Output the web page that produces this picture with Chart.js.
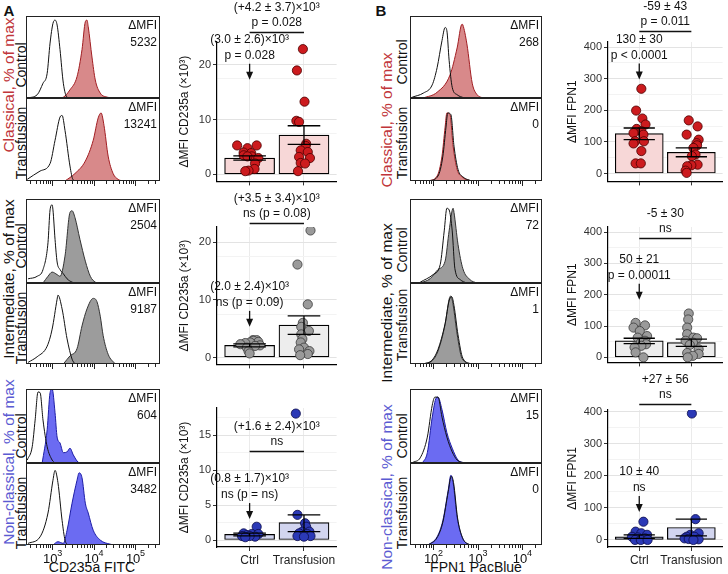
<!DOCTYPE html>
<html>
<head>
<meta charset="utf-8">
<script src="https://cdn.jsdelivr.net/npm/chart.js@4.4.0/dist/chart.umd.min.js"></script>
<style>
body { margin: 0; background: #fff; font-family: "Liberation Sans", Arial, sans-serif; }
#wrap { position: relative; width: 728px; height: 574px; overflow: hidden; }
canvas { position: absolute; }
.txt { position: absolute; white-space: nowrap; transform: translate(-50%, -50%); color: #111; }
.rot { position: absolute; white-space: nowrap; line-height: 1; transform: translate(-50%, -50%) rotate(-90deg); color: #111; font-size: 14px; }
.grp { font-size: 15.5px; }
</style>
</head>
<body>
<div id="wrap">
  <div class="txt" style="left:9px;top:10px;font-weight:bold;font-size:15px">A</div>
  <div class="txt" style="left:381px;top:10px;font-weight:bold;font-size:15px">B</div>

  <div class="rot grp" style="left:9px;top:85px;color:#c0353a">Classical, % of max</div>
  <div class="rot" style="left:21px;top:65px">Control</div>
  <div class="rot" style="left:21px;top:143px">Transfusion</div>
  <div class="rot grp" style="left:9px;top:279px">Intermediate, % of max</div>
  <div class="rot" style="left:21px;top:246px">Control</div>
  <div class="rot" style="left:21px;top:328px">Transfusion</div>
  <div class="rot grp" style="left:9px;top:462px;color:#5b5bd2">Non-classical, % of max</div>
  <div class="rot" style="left:21px;top:436px">Control</div>
  <div class="rot" style="left:21px;top:513px">Transfusion</div>

  <div class="rot grp" style="left:387px;top:120px;color:#c0353a">Classical, % of max</div>
  <div class="rot" style="left:402px;top:62px">Control</div>
  <div class="rot" style="left:402px;top:143px">Transfusion</div>
  <div class="rot grp" style="left:387px;top:303px">Intermediate, % of max</div>
  <div class="rot" style="left:402px;top:250px">Control</div>
  <div class="rot" style="left:402px;top:325px">Transfusion</div>
  <div class="rot grp" style="left:387px;top:487px;color:#5b5bd2">Non-classical, % of max</div>
  <div class="rot" style="left:402px;top:436px">Control</div>
  <div class="rot" style="left:402px;top:513px">Transfusion</div>

  <div class="txt" style="left:92px;top:567px;font-size:14px">CD235a FITC</div>
  <div class="txt" style="left:476px;top:567px;font-size:14px">FPN1 PacBlue</div>
</div>
<script>
// ---- histogram curves: [log10 intensity, % of max] ----
// A: CD235a FITC
var aClsCtrlIso = [[2.40,0],[2.64,4],[2.78,18],[2.88,30],[2.95,67],[3.02,91],[3.07,95],[3.12,89],[3.19,59],[3.27,18],[3.36,1],[3.45,0]];
var aClsCtrlStain = [[3.15,0],[3.27,1],[3.43,10],[3.60,26],[3.72,59],[3.80,93],[3.84,95],[3.87,87],[3.96,50],[4.04,22],[4.16,6],[4.33,1],[4.45,0]];
var aClsTrIso = [[2.40,2],[2.71,12],[2.95,21],[3.07,49],[3.19,77],[3.24,79],[3.31,61],[3.43,18],[3.50,2],[3.58,0]];
var aClsTrStain = [[3.31,0],[3.55,9],[3.80,24],[3.99,49],[4.11,76],[4.18,82],[4.25,67],[4.35,30],[4.47,9],[4.59,2],[4.70,0]];
var aIntCtrlIso = [[2.42,5],[2.64,8],[2.78,16],[2.90,48],[2.95,87],[3.00,93],[3.02,87],[3.07,52],[3.12,25],[3.19,16],[3.27,11],[3.36,5],[3.48,1],[3.55,0]];
var aIntCtrlStain = [[2.78,0],[2.90,8],[3.00,13],[3.12,10],[3.19,8],[3.31,32],[3.43,84],[3.48,86],[3.55,78],[3.67,52],[3.80,26],[3.92,8],[4.04,1],[4.12,0]];
var aIntTrIso = [[2.42,2],[2.64,9],[2.88,22],[3.00,43],[3.12,80],[3.14,85],[3.24,68],[3.36,31],[3.48,6],[3.55,0]];
var aIntTrStain = [[3.27,0],[3.43,10],[3.60,19],[3.72,47],[3.84,68],[3.99,81],[4.08,77],[4.16,59],[4.23,35],[4.35,12],[4.52,0]];
var aNcCtrlIso = [[2.40,4],[2.52,22],[2.59,58],[2.66,96],[2.71,95],[2.78,58],[2.88,22],[3.00,4],[3.07,0]];
var aNcCtrlStain = [[2.76,0],[2.88,45],[2.95,95],[3.00,100],[3.07,68],[3.12,35],[3.19,27],[3.27,14],[3.36,15],[3.43,20],[3.51,11],[3.63,1],[3.70,0]];
var aNcTrIso = [[2.42,2],[2.71,10],[2.90,39],[3.02,79],[3.07,91],[3.14,76],[3.24,30],[3.31,6],[3.38,0]];
var aNcTrStain = [[3.02,0],[3.14,4],[3.27,2],[3.36,18],[3.48,51],[3.60,79],[3.65,88],[3.72,82],[3.80,51],[3.87,39],[3.99,18],[4.16,6],[4.40,1],[4.50,0]];
// B: FPN1 PacBlue
var bClsCtrlIso = [[1.53,1],[1.78,6],[1.98,16],[2.09,37],[2.20,70],[2.27,86],[2.31,82],[2.36,46],[2.43,13],[2.54,4],[2.70,0]];
var bClsCtrlStain = [[1.78,0],[2.09,7],[2.38,28],[2.54,61],[2.65,90],[2.67,89],[2.76,66],[2.88,18],[2.99,4],[3.12,0]];
var bClsTrIso = [[1.91,0],[2.11,6],[2.22,30],[2.29,65],[2.33,82],[2.40,80],[2.47,42],[2.56,14],[2.67,5],[2.87,0]];
var bClsTrStain = [[1.89,0],[2.09,6],[2.20,30],[2.27,65],[2.31,82],[2.38,80],[2.45,42],[2.54,14],[2.65,5],[2.85,0]];
var bIntCtrlIso = [[1.71,1],[2.00,10],[2.16,22],[2.25,62],[2.31,89],[2.36,87],[2.43,62],[2.49,17],[2.61,4],[2.75,0]];
var bIntCtrlStain = [[1.71,0],[1.93,5],[2.11,16],[2.27,26],[2.36,62],[2.45,89],[2.47,84],[2.56,46],[2.67,17],[2.83,4],[2.98,0]];
var bIntTrIso = [[1.78,0],[1.98,5],[2.11,18],[2.27,50],[2.36,78],[2.42,83],[2.47,72],[2.56,36],[2.67,7],[2.87,0]];
var bIntTrStain = [[1.78,0],[1.98,4],[2.11,16],[2.27,49],[2.36,80],[2.40,84],[2.45,73],[2.54,37],[2.65,7],[2.85,0]];
var bNcCtrlIso = [[1.55,1],[1.71,7],[1.87,35],[1.98,78],[2.04,89],[2.11,89],[2.20,62],[2.31,35],[2.43,15],[2.54,4],[2.70,0]];
var bNcCtrlStain = [[1.76,0],[1.87,14],[1.98,62],[2.07,88],[2.11,89],[2.20,72],[2.31,41],[2.43,20],[2.56,4],[2.72,0]];
var bNcTrIso = [[1.89,0],[2.09,9],[2.22,28],[2.34,65],[2.41,84],[2.46,76],[2.55,33],[2.66,9],[2.80,1],[2.90,0]];
var bNcTrStain = [[1.89,0],[2.09,10],[2.22,30],[2.34,67],[2.40,85],[2.45,76],[2.54,34],[2.65,10],[2.79,1],[2.90,0]];

var histMfi = [['5232','13241'],['2504','9187'],['604','3482'],['268','0'],['72','1'],['15','0']];

// ---- bar / dot plots ----
var groups = ['Ctrl', 'Transfusion'];

var aClsCtrl = [5.3,5.3,4.8,4.0,3.9,3.5,3.3,3.3,3.0,2.0,1.0,0.7,0.6];
var aClsCtrlJit = [-0.23,0.13,-0.04,-0.11,0.03,-0.11,0.04,-0.04,0.16,0.10,0.09,-0.02,-0.08];
var aClsTr = [22.9,19.0,13.3,9.8,9.6,5.6,5.2,4.4,4.1,3.2,3.0,2.1,2.0,0.6];
var aClsTrJit = [-0.02,-0.13,0.01,-0.14,-0.09,0.04,0.03,-0.06,0.07,-0.09,0.11,-0.06,0.02,-0.11];
var aClsMean = [3.0, 7.2], aClsLo = [2.6, 5.5], aClsHi = [3.4, 8.9];

var aIntCtrl = [3.0,3.0,2.9,2.7,2.6,2.5,2.3,2.1,2.0,1.7,1.1,0.7];
var aIntCtrlJit = [0.06,0.13,0.07,0.16,0.01,-0.08,-0.17,0.19,0.10,-0.05,-0.02,0.0];
var aIntTr = [22.0,16.1,9.2,6.0,5.3,4.6,4.0,3.2,2.6,1.7,1.4,1.1,0.6,0.4];
var aIntTrJit = [0.12,-0.12,0.07,-0.02,-0.05,0.09,-0.05,-0.03,-0.06,0.0,-0.09,0.10,0.07,-0.07];
var aIntMean = [2.1, 5.6], aIntLo = [1.85, 4.0], aIntHi = [2.35, 7.2];

var aNcCtrl = [1.9,0.95,0.86,0.86,0.7,0.57,0.48,0.57,0.4];
var aNcCtrlJit = [0.13,-0.11,0.04,0.16,-0.05,-0.14,0.10,0.0,-0.08];
var aNcTr = [18.1,3.6,2.4,1.9,1.2,1.2,0.95,0.86,0.57,0.57,0.48];
var aNcTrJit = [-0.15,-0.12,0.02,0.04,-0.03,0.10,-0.09,0.06,-0.12,0.12,0.0];
var aNcMean = [0.8, 2.5], aNcLo = [0.6, 1.2], aNcHi = [1.0, 3.6];

var bClsCtrl = [268,199,174,155,141,134,128,123,102,102,95,71,32,32];
var bClsCtrlJit = [0.04,-0.06,0.06,0.12,-0.05,0.04,-0.11,0.08,-0.08,0.09,-0.11,0.04,-0.07,0.03];
var bClsTr = [168,149,123,107,96,89,81,60,55,28,26,23,9,2];
var bClsTrJit = [-0.05,0.12,-0.09,0.14,0.10,0.11,0.04,0.08,0.01,0.12,0.0,-0.08,-0.11,-0.09];
var bClsMean = [126, 67], bClsLo = [107, 53], bClsHi = [144, 81];

var bIntCtrl = [110,102,95,84,68,63,53,47,42,37,32,16,0];
var bIntCtrlJit = [-0.07,0.11,-0.11,0.01,0.15,-0.03,0.11,0.03,0.13,0.04,-0.09,-0.07,0.08];
var bIntTr = [140,121,95,74,63,61,53,47,40,26,14,11,5,0];
var bIntTrJit = [-0.05,-0.06,-0.08,-0.08,0.04,0.11,-0.11,0.03,-0.03,0.14,-0.08,0.14,0.03,-0.07];
var bIntMean = [53, 47], bIntLo = [44, 35], bIntHi = [61, 58];

var bNcCtrl = [57,26,21,16,10,8,5,0,0,0];
var bNcCtrlJit = [0.08,-0.07,0.04,0.15,-0.14,-0.03,0.11,-0.08,0.03,0.16];
var bNcTr = [395,65,21,16,10,10,5,3,2,0];
var bNcTrJit = [0.01,0.08,0.14,-0.02,-0.09,0.06,-0.13,-0.05,0.14,0.04];
var bNcMean = [10, 39], bNcLo = [5, 13], bNcHi = [16, 65];

var aTickMajor = [0, 5, 10, 15, 20], aTickMinor = [2.5, 7.5, 12.5, 17.5, 22.5];
var aNcTickMajor = [0, 5, 10, 15], aNcTickMinor = [2.5, 7.5, 12.5, 17.5];
var bTickMajor = [0, 100, 200, 300, 400], bTickMinor = [50, 150, 250, 350];

// ---- colours ----
var colCls = { fill: '#d8898a', line: '#a11d22', bar: '#f7d7d7', pt: '#cc1b1e', edge: '#4a0000' };
var colInt = { fill: '#9c9c9c', line: '#333333', bar: '#ededed', pt: '#9a9a9a', edge: '#3a3a3a' };
var colNc  = { fill: '#6b6bf2', line: '#1c1ca6', bar: '#d2d5ef', pt: '#2b39b6', edge: '#0b0b4a' };

Chart.defaults.font.family = '"Liberation Sans", Arial, sans-serif';

var wrap = document.getElementById('wrap');
function addCanvas(left, top, w, h) {
  var c = document.createElement('canvas');
  c.width = w; c.height = h;
  c.style.left = left + 'px'; c.style.top = top + 'px';
  c.style.width = w + 'px'; c.style.height = h + 'px';
  wrap.appendChild(c);
  return c;
}

function logTicks(lo, hi) {
  var out = [];
  for (var d = Math.floor(lo); d <= Math.ceil(hi); d++) {
    for (var m = 1; m <= 9; m++) {
      var v = d + Math.log10(m);
      if (v >= lo && v <= hi) out.push({ v: v, major: m === 1, e: d });
    }
  }
  return out;
}

var histDeco = {
  id: 'histDeco',
  afterDraw: function (chart) {
    var o = chart.options.plugins.histDeco;
    var ctx = chart.ctx, a = chart.chartArea, xs = chart.scales.x;
    ctx.save();
    ctx.strokeStyle = '#222';
    ctx.lineWidth = 1;
    ctx.strokeRect(a.left + 0.5, a.top + 0.5, a.right - a.left - 1, a.bottom - a.top - 1);
    ctx.fillStyle = '#111';
    ctx.font = '12px "Liberation Sans", Arial';
    ctx.textAlign = 'right';
    ctx.textBaseline = 'middle';
    ctx.fillText('\u0394MFI', a.right - 3, a.top + 10);
    ctx.fillText(o.mfi, a.right - 3, a.top + 27);
    if (o.ticks) {
      var ticks = logTicks(xs.min, xs.max);
      ctx.beginPath();
      ticks.forEach(function (t) {
        var px = Math.round(xs.getPixelForValue(t.v)) + 0.5;
        ctx.moveTo(px, a.bottom);
        ctx.lineTo(px, a.bottom + (t.major ? 5 : 3));
      });
      ctx.stroke();
      if (o.labels) {
        ticks.forEach(function (t) {
          if (!t.major) return;
          var px = xs.getPixelForValue(t.v);
          ctx.font = '13px "Liberation Sans", Arial';
          ctx.textAlign = 'center';
          ctx.fillText('10', px - 2, a.bottom + 14);
          ctx.font = '9px "Liberation Sans", Arial';
          ctx.textAlign = 'left';
          ctx.fillText(String(t.e), px + 5, a.bottom + 9);
        });
      }
    }
    ctx.restore();
  }
};

function histChart(left, top, w, h, padBottom, range, iso, stain, col, deco) {
  var cv = addCanvas(left, top, w, h);
  return new Chart(cv, {
    type: 'line',
    data: {
      datasets: [
        { data: iso.map(function (p) { return { x: p[0], y: p[1] }; }), borderColor: '#111', borderWidth: 1,
          fill: false, pointRadius: 0, cubicInterpolationMode: 'monotone', order: 1 },
        { data: stain.map(function (p) { return { x: p[0], y: p[1] }; }), borderColor: col.line, backgroundColor: col.fill,
          borderWidth: 1, fill: 'origin', pointRadius: 0, cubicInterpolationMode: 'monotone', order: 2 }
      ]
    },
    options: {
      responsive: false, animation: false, events: [],
      layout: { padding: { left: 1, right: 1, top: 1, bottom: padBottom } },
      scales: {
        x: { type: 'linear', min: range[0], max: range[1], display: false },
        y: { min: 0, max: 100, display: false }
      },
      plugins: { legend: { display: false }, tooltip: { enabled: false }, histDeco: deco }
    },
    plugins: [histDeco]
  });
}

var barDeco = {
  id: 'barDeco',
  afterDatasetsDraw: function (chart) {
    var o = chart.options.plugins.barDeco;
    var ctx = chart.ctx, xs = chart.scales.x, ys = chart.scales.y;
    ctx.save();
    ctx.strokeStyle = '#000';
    ctx.lineWidth = 1.3;
    ctx.beginPath();
    for (var i = 0; i < o.lo.length; i++) {
      var cx = xs.getPixelForValue(i + 1);
      var x0 = xs.getPixelForValue(i + 1 - 0.3), x1 = xs.getPixelForValue(i + 1 + 0.3);
      var yl = ys.getPixelForValue(o.lo[i]), yh = ys.getPixelForValue(o.hi[i]);
      ctx.moveTo(cx, yl); ctx.lineTo(cx, yh);
      ctx.moveTo(x0, yl); ctx.lineTo(x1, yl);
      ctx.moveTo(x0, yh); ctx.lineTo(x1, yh);
    }
    ctx.stroke();
    ctx.restore();
  },
  afterDraw: function (chart) {
    var o = chart.options.plugins.barDeco;
    var ctx = chart.ctx, xs = chart.scales.x, ys = chart.scales.y;
    var bx0 = xs.getPixelForValue(1), bx1 = xs.getPixelForValue(2);
    var by = Math.round(ys.getPixelForValue(o.bracketAt)) + 0.5;
    var ty = ys.getPixelForValue(o.arrowAt);
    ctx.save();
    ctx.fillStyle = '#111';
    ctx.strokeStyle = '#111';
    ctx.font = '12px "Liberation Sans", Arial';
    ctx.textAlign = 'center';
    ctx.textBaseline = 'middle';
    ctx.fillText(o.diffText[0], (bx0 + bx1) / 2, by - 25);
    ctx.fillText(o.diffText[1], (bx0 + bx1) / 2, by - 10);
    ctx.lineWidth = 1.3;
    ctx.beginPath();
    ctx.moveTo(bx0, by); ctx.lineTo(bx1, by);
    ctx.stroke();
    ctx.fillText(o.ctrlText[0], bx0, ty - 40);
    ctx.fillText(o.ctrlText[1], bx0, ty - 24);
    ctx.beginPath();
    ctx.moveTo(bx0, ty - 16); ctx.lineTo(bx0, ty - 4);
    ctx.stroke();
    ctx.beginPath();
    ctx.moveTo(bx0 - 3.5, ty - 8); ctx.lineTo(bx0 + 3.5, ty - 8); ctx.lineTo(bx0, ty);
    ctx.closePath();
    ctx.fill();
    ctx.restore();
  }
};

function barChart(geo, cfg) {
  var w = geo.yw + (geo.cr - geo.cl) + geo.pr;
  var h = geo.cb - geo.top + geo.xh;
  var cv = addCanvas(geo.cl - geo.yw, geo.top, w, h);
  var majors = cfg.major, all = cfg.major.concat(cfg.minor);
  function pts(vals, jit, g) {
    return vals.map(function (v, i) { return { x: g + jit[i], y: v }; });
  }
  return new Chart(cv, {
    type: 'bar',
    data: {
      datasets: [
        { type: 'bar', data: [{ x: 1, y: cfg.mean[0] }, { x: 2, y: cfg.mean[1] }],
          backgroundColor: cfg.col.bar, borderColor: '#000', borderWidth: 1.2, borderSkipped: false,
          barThickness: geo.bw, order: 3 },
        { type: 'scatter', data: pts(cfg.ctrl, cfg.ctrlJit, 1).concat(pts(cfg.tr, cfg.trJit, 2)),
          pointRadius: 4.6, pointBackgroundColor: cfg.col.pt, pointBorderColor: cfg.col.edge,
          pointBorderWidth: 0.8, order: 1 }
      ]
    },
    options: {
      responsive: false, animation: false, events: [],
      layout: { padding: { top: geo.ct - geo.top, right: geo.pr, left: 0, bottom: 0 } },
      scales: {
        x: {
          type: 'linear', min: 0.4, max: 2.6, offset: false,
          afterBuildTicks: function (s) { s.ticks = [{ value: 1 }, { value: 2 }]; },
          afterFit: function (s) { s.height = geo.xh; },
          grid: { offset: false, color: '#ebebeb', tickColor: '#333', tickLength: 4 },
          border: { color: '#000', width: 1.2 },
          ticks: { autoSkip: false, maxRotation: 0, padding: 2, color: '#222', font: { size: 12 },
            callback: function (v) { return cfg.xLabels ? groups[v - 1] : ''; } }
        },
        y: {
          type: 'linear', min: cfg.ymin, max: cfg.ymax,
          afterBuildTicks: function (s) { s.ticks = all.map(function (v) { return { value: v }; }); },
          afterFit: function (s) { s.width = geo.yw; },
          grid: {
            color: function (c) { return c.tick && majors.indexOf(c.tick.value) >= 0 ? '#e3e3e3' : '#f3f3f3'; },
            tickColor: function (c) { return c.tick && majors.indexOf(c.tick.value) >= 0 ? '#333' : 'rgba(0,0,0,0)'; },
            tickLength: 4
          },
          border: { color: '#000', width: 1.2 },
          ticks: { padding: 2, color: '#333', font: { size: 11 },
            callback: function (v) { return majors.indexOf(v) >= 0 ? v : ''; } },
          title: { display: true, text: cfg.yTitle, color: '#111', font: { size: 12 }, padding: 0 }
        }
      },
      plugins: {
        legend: { display: false }, tooltip: { enabled: false },
        barDeco: { lo: cfg.lo, hi: cfg.hi, diffText: cfg.diffText, bracketAt: cfg.bracketAt,
          ctrlText: cfg.ctrlText, arrowAt: cfg.arrowAt }
      }
    },
    plugins: [barDeco]
  });
}

// ---- layout ----
var histRows = [{ t: 16, m: 98, b: 181, extra: 7 }, { t: 199, m: 283, b: 364, extra: 7 }, { t: 389, m: 463, b: 545, extra: 22 }];
var histCols = [{ l: 26, r: 160, range: [2.37, 5.6] }, { l: 410, r: 542, range: [1.48, 4.45] }];
var histSets = [
  [[aClsCtrlIso, aClsCtrlStain, aClsTrIso, aClsTrStain, colCls],
   [aIntCtrlIso, aIntCtrlStain, aIntTrIso, aIntTrStain, colInt],
   [aNcCtrlIso, aNcCtrlStain, aNcTrIso, aNcTrStain, colNc]],
  [[bClsCtrlIso, bClsCtrlStain, bClsTrIso, bClsTrStain, colCls],
   [bIntCtrlIso, bIntCtrlStain, bIntTrIso, bIntTrStain, colInt],
   [bNcCtrlIso, bNcCtrlStain, bNcTrIso, bNcTrStain, colNc]]
];
histCols.forEach(function (c, ci) {
  histRows.forEach(function (r, ri) {
    var s = histSets[ci][ri], mfi = histMfi[ci * 3 + ri];
    var w = c.r - c.l + 2;
    histChart(c.l - 1, r.t - 1, w, r.m - r.t + 2, 1, c.range, s[0], s[1], s[4], { mfi: mfi[0] });
    histChart(c.l - 1, r.m - 1, w, r.b - r.m + 2 + r.extra, 1 + r.extra, c.range, s[2], s[3], s[4],
      { mfi: mfi[1], ticks: true, labels: ri === 2 });
  });
});

var aTitle = '\u0394MFI CD235a (\u00d710\u00b3)', bTitle = '\u0394MFI FPN1';

barChart({ cl: 217, cr: 338, yw: 40, pr: 4, bw: 50, top: 0, ct: 42, cb: 182, xh: 8 },
  { ctrl: aClsCtrl, ctrlJit: aClsCtrlJit, tr: aClsTr, trJit: aClsTrJit, mean: aClsMean, lo: aClsLo, hi: aClsHi,
    ymin: -1.27, ymax: 24.2, major: aTickMajor, minor: aTickMinor, col: colCls, yTitle: aTitle, xLabels: false,
    diffText: ['(+4.2 \u00b1 3.7)\u00d710\u00b3', 'p = 0.028'], bracketAt: 26,
    ctrlText: ['(3.0 \u00b1 2.6)\u00d710\u00b3', 'p = 0.028'], arrowAt: 17.3 });
barChart({ cl: 217, cr: 338, yw: 40, pr: 4, bw: 50, top: 186, ct: 227, cb: 365, xh: 8 },
  { ctrl: aIntCtrl, ctrlJit: aIntCtrlJit, tr: aIntTr, trJit: aIntTrJit, mean: aIntMean, lo: aIntLo, hi: aIntHi,
    ymin: -1.2, ymax: 22.6, major: aTickMajor, minor: aTickMinor, col: colInt, yTitle: aTitle, xLabels: false,
    diffText: ['(+3.5 \u00b1 3.4)\u00d710\u00b3', 'ns (p = 0.08)'], bracketAt: 23.3,
    ctrlText: ['(2.0 \u00b1 2.4)\u00d710\u00b3', 'ns (p = 0.09)'], arrowAt: 5.3 });
barChart({ cl: 217, cr: 338, yw: 40, pr: 4, bw: 50, top: 370, ct: 408, cb: 547, xh: 22 },
  { ctrl: aNcCtrl, ctrlJit: aNcCtrlJit, tr: aNcTr, trJit: aNcTrJit, mean: aNcMean, lo: aNcLo, hi: aNcHi,
    ymin: -1.0, ymax: 18.9, major: aNcTickMajor, minor: aNcTickMinor, col: colNc, yTitle: aTitle, xLabels: true,
    diffText: ['(+1.6 \u00b1 2.4)\u00d710\u00b3', 'ns'], bracketAt: 12.7,
    ctrlText: ['(0.8 \u00b1 1.7)\u00d710\u00b3', 'ns (p = ns)'], arrowAt: 3.0 });

barChart({ cl: 608, cr: 726, yw: 43, pr: 2, bw: 48, top: 0, ct: 42, cb: 182, xh: 8 },
  { ctrl: bClsCtrl, ctrlJit: bClsCtrlJit, tr: bClsTr, trJit: bClsTrJit, mean: bClsMean, lo: bClsLo, hi: bClsHi,
    ymin: -25, ymax: 416, major: bTickMajor, minor: bTickMinor, col: colCls, yTitle: bTitle, xLabels: false,
    diffText: ['-59 \u00b1 43', 'p = 0.011'], bracketAt: 452,
    ctrlText: ['130 \u00b1 30', 'p < 0.0001'], arrowAt: 297 });
barChart({ cl: 608, cr: 726, yw: 43, pr: 2, bw: 48, top: 186, ct: 227, cb: 363, xh: 8 },
  { ctrl: bIntCtrl, ctrlJit: bIntCtrlJit, tr: bIntTr, trJit: bIntTrJit, mean: bIntMean, lo: bIntLo, hi: bIntHi,
    ymin: -16, ymax: 416, major: bTickMajor, minor: bTickMinor, col: colInt, yTitle: bTitle, xLabels: false,
    diffText: ['-5 \u00b1 30', 'ns'], bracketAt: 381,
    ctrlText: ['50 \u00b1 21', 'p = 0.00011'], arrowAt: 184 });
barChart({ cl: 608, cr: 726, yw: 43, pr: 2, bw: 48, top: 366, ct: 410, cb: 547, xh: 22 },
  { ctrl: bNcCtrl, ctrlJit: bNcCtrlJit, tr: bNcTr, trJit: bNcTrJit, mean: bNcMean, lo: bNcLo, hi: bNcHi,
    ymin: -22, ymax: 406, major: bTickMajor, minor: bTickMinor, col: colNc, yTitle: bTitle, xLabels: true,
    diffText: ['+27 \u00b1 56', 'ns'], bracketAt: 425,
    ctrlText: ['10 \u00b1 40', 'ns'], arrowAt: 87 });
</script>
</body>
</html>
